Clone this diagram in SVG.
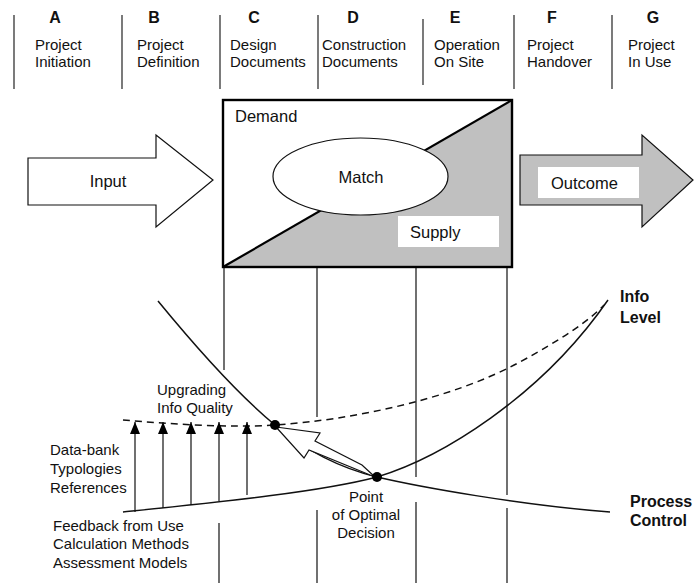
<svg xmlns="http://www.w3.org/2000/svg" width="694" height="583" viewBox="0 0 694 583">
  <style>
    text { font-family: "Liberation Sans", Arial, sans-serif; fill: #111; }
    .phase { font-size: 16px; font-weight: bold; text-anchor: middle; }
    .lbl { font-size: 15px; }
    .big { font-size: 16.5px; }
    .bold { font-size: 16px; font-weight: bold; }
    .mid { text-anchor: middle; }
    .sep { stroke: #222; stroke-width: 1.2; }
    .thin { stroke: #111; stroke-width: 1.2; fill: none; }
    .curve { stroke: #111; stroke-width: 1.5; fill: none; }
  </style>
  <defs>
    <marker id="tri" viewBox="0 0 12 10" refX="12" refY="5" markerWidth="12" markerHeight="10" markerUnits="userSpaceOnUse" orient="auto">
      <path d="M0,0 L12,5 L0,10 Z" fill="#000"/>
    </marker>
  </defs>
  <rect width="694" height="583" fill="#fff"/>

  <!-- phase header -->
  <g id="phases">
    <g id="phase-a">
      <line class="sep" x1="14" y1="15" x2="14" y2="89"/>
      <text class="phase" x="55" y="23">A</text>
      <text class="lbl" x="35" y="50">Project</text>
      <text class="lbl" x="35" y="67">Initiation</text>
    </g>
    <g id="phase-b">
      <line class="sep" x1="122" y1="15" x2="122" y2="89"/>
      <text class="phase" x="154" y="23">B</text>
      <text class="lbl" x="137" y="50">Project</text>
      <text class="lbl" x="137" y="67">Definition</text>
    </g>
    <g id="phase-c">
      <line class="sep" x1="220" y1="15" x2="220" y2="89"/>
      <text class="phase" x="254" y="23">C</text>
      <text class="lbl" x="230" y="50">Design</text>
      <text class="lbl" x="230" y="67">Documents</text>
    </g>
    <g id="phase-d">
      <line class="sep" x1="318" y1="15" x2="318" y2="89"/>
      <text class="phase" x="353" y="23">D</text>
      <text class="lbl" x="322" y="50">Construction</text>
      <text class="lbl" x="322" y="67">Documents</text>
    </g>
    <g id="phase-e">
      <line class="sep" x1="423" y1="19" x2="423" y2="85"/>
      <text class="phase" x="455" y="23">E</text>
      <text class="lbl" x="434" y="50">Operation</text>
      <text class="lbl" x="434" y="67">On Site</text>
    </g>
    <g id="phase-f">
      <line class="sep" x1="514" y1="15" x2="514" y2="89"/>
      <text class="phase" x="552" y="23">F</text>
      <text class="lbl" x="527" y="50">Project</text>
      <text class="lbl" x="527" y="67">Handover</text>
    </g>
    <g id="phase-g">
      <line class="sep" x1="612" y1="15" x2="612" y2="89"/>
      <text class="phase" x="653" y="23">G</text>
      <text class="lbl" x="628" y="50">Project</text>
      <text class="lbl" x="628" y="67">In Use</text>
    </g>
  </g>

  <!-- input block arrow -->
  <g id="input">
    <polygon points="28,158 156,158 156,135 213,180 156,227 156,205 28,205" fill="#fff" stroke="#111" stroke-width="1.2"/>
    <text class="big mid" x="108" y="187">Input</text>
  </g>

  <!-- demand / supply box -->
  <g id="match-box">
    <rect x="223" y="100" width="289" height="167" fill="#fff"/>
    <polygon points="223,267 512,100 512,267" fill="#c0c0c0"/>
    <line x1="223" y1="267" x2="512" y2="100" stroke="#000" stroke-width="2.2"/>
    <ellipse cx="360.5" cy="176.5" rx="87.5" ry="38.5" fill="#fff" stroke="#111" stroke-width="1.2"/>
    <rect x="398" y="216" width="101" height="31" fill="#fff"/>
    <rect x="223" y="100" width="289" height="167" fill="none" stroke="#000" stroke-width="2.4"/>
    <text class="big" x="235" y="122">Demand</text>
    <text class="big mid" x="361" y="183">Match</text>
    <text class="big" x="410" y="238">Supply</text>
  </g>

  <!-- outcome block arrow -->
  <g id="outcome">
    <polygon points="520,155 642,155 642,135 693,180 642,227 642,205 520,205" fill="#c0c0c0" stroke="#111" stroke-width="1.2"/>
    <rect x="538" y="167" width="101" height="31" fill="#fff"/>
    <text class="big" x="551" y="189">Outcome</text>
  </g>

  <!-- curves, phase guides and arrows -->
  <g id="connectors">
    <!-- phase guide lines below the box -->
    <line class="thin" x1="224" y1="268" x2="224" y2="370"/>
    <line class="thin" x1="219" y1="523" x2="219" y2="583"/>
    <line class="thin" x1="317" y1="268" x2="317" y2="417"/>
    <line class="thin" x1="317" y1="510" x2="317" y2="583"/>
    <line class="thin" x1="416" y1="268" x2="416" y2="477"/>
    <line class="thin" x1="416" y1="502" x2="416" y2="583"/>
    <line class="thin" x1="507" y1="268" x2="507" y2="495"/>
    <line class="thin" x1="507" y1="508" x2="507" y2="583"/>

    <!-- process control curve -->
    <path id="process-control" class="curve" d="M158,301 C190,340 235,392 275,425 C305,450 340,468 377,477 C420,487 520,505 610,512"/>
    <!-- info level curve -->
    <path id="info-level" class="curve" d="M123,512 C220,502 320,492 377,477 C440,458 540,398 608,300"/>
    <!-- upgraded info level (dashed) -->
    <path id="info-upgraded" class="curve" stroke-dasharray="7 5" d="M123,420 C170,424 230,428 275,425 C350,420 450,400 520,362 C560,340 588,322 604,305"/>

    <!-- upgrading arrows -->
    <line class="thin" x1="135" y1="512" x2="135" y2="422" marker-end="url(#tri)"/>
    <line class="thin" x1="163" y1="508" x2="163" y2="422" marker-end="url(#tri)"/>
    <line class="thin" x1="191" y1="505" x2="191" y2="422" marker-end="url(#tri)"/>
    <line class="thin" x1="219" y1="501" x2="219" y2="422" marker-end="url(#tri)"/>
    <line class="thin" x1="247" y1="495" x2="247" y2="422" marker-end="url(#tri)"/>

    <!-- hollow arrow from optimal point to upgraded point -->
    <polygon points="276,427 320,433 315,441 362,465 375,477 309,450 304,458" fill="#fff" stroke="#111" stroke-width="1.2" stroke-linejoin="miter"/>

    <circle cx="275" cy="425" r="5" fill="#000"/>
    <circle cx="377" cy="477" r="5" fill="#000"/>
  </g>

  <!-- annotations -->
  <g id="upgrading-label">
    <text class="lbl" x="157" y="395">Upgrading</text>
    <text class="lbl" x="157" y="413">Info Quality</text>
  </g>
  <g id="databank-label">
    <text class="lbl" x="50" y="455">Data-bank</text>
    <text class="lbl" x="50" y="474">Typologies</text>
    <text class="lbl" x="50" y="493">References</text>
  </g>
  <g id="feedback-label">
    <text class="lbl" x="53" y="531">Feedback from Use</text>
    <text class="lbl" x="53" y="549">Calculation Methods</text>
    <text class="lbl" x="53" y="568">Assessment Models</text>
  </g>
  <g id="optimal-label">
    <text class="lbl mid" x="366" y="502">Point</text>
    <text class="lbl mid" x="366" y="520">of Optimal</text>
    <text class="lbl mid" x="366" y="538">Decision</text>
  </g>
  <g id="info-level-label">
    <text class="bold" x="620" y="302">Info</text>
    <text class="bold" x="620" y="323">Level</text>
  </g>
  <g id="process-control-label">
    <text class="bold" x="630" y="507">Process</text>
    <text class="bold" x="630" y="526">Control</text>
  </g>
</svg>
